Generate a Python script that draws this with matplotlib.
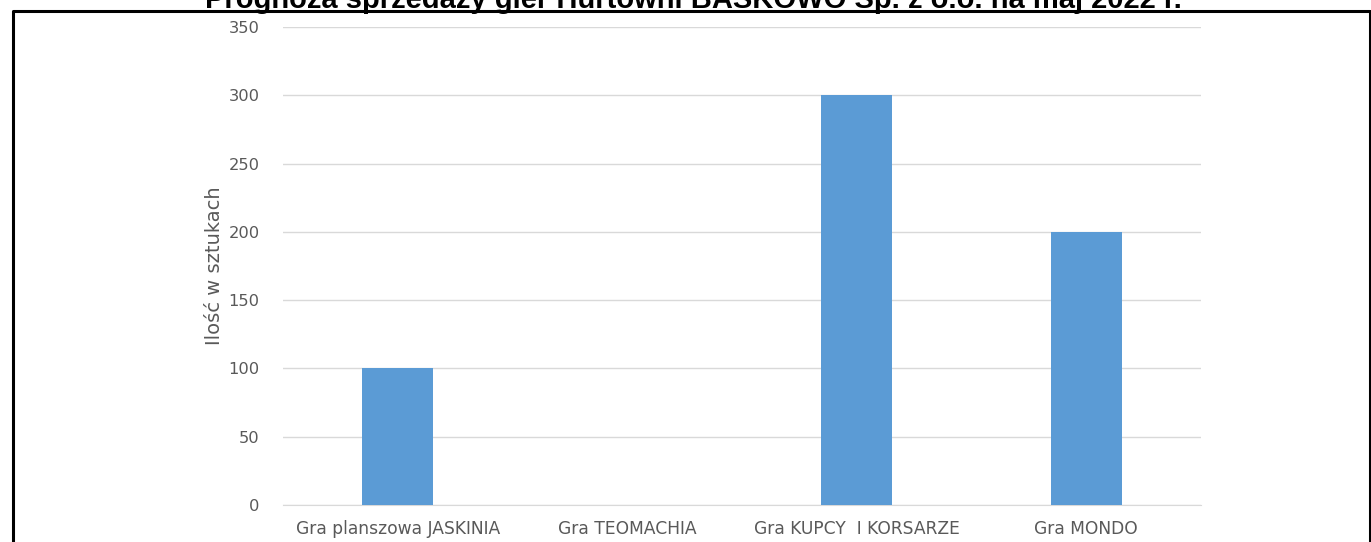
import matplotlib
matplotlib.use("Agg")
import matplotlib.pyplot as plt
from matplotlib.lines import Line2D

# dane z wykresu
kategorie = ["Gra planszowa JASKINIA", "Gra TEOMACHIA", "Gra KUPCY  I KORSARZE", "Gra MONDO"]
ilosc = [100, 0, 300, 200]
yticks = [0, 50, 100, 150, 200, 250, 300, 350]
tytul = "Prognoza sprzedaży gier Hurtowni BASKOWO Sp. z o.o. na maj 2022 r."

W, H = 1371, 542
fig = plt.figure(figsize=(W / 100, H / 100), dpi=100)
ax = fig.add_axes([283 / W, 1 - 505 / H, (1201 - 283) / W, (505 - 27) / H])

x = list(range(len(kategorie)))
ax.bar(x, ilosc, width=0.31, color="#5B9BD5", zorder=3)
ax.set_xlim(-0.5, len(kategorie) - 0.5)
ax.set_ylim(0, 350)
ax.set_yticks(yticks)
ax.set_xticks(x)
ax.set_xticklabels(kategorie)
ax.grid(axis="y", color="#D9D9D9", linewidth=1.0, zorder=0)
for s in ["top", "right", "left"]:
    ax.spines[s].set_visible(False)
ax.spines["bottom"].set_color("#D9D9D9")
ax.tick_params(length=0, colors="#595959")
ax.tick_params(axis="y", pad=17, labelsize=11.7)
ax.tick_params(axis="x", pad=11, labelsize=12.3)
ax.set_ylabel("Ilość w sztukach", color="#595959", fontsize=14, labelpad=3)

# ramka
ramka = Line2D([12.5 / W, 12.5 / W, 1369.5 / W, 1369.5 / W],
               [0, 1 - 11 / H, 1 - 11 / H, 0],
               transform=fig.transFigure, color="black", linewidth=2.2)
fig.add_artist(ramka)

fig.text(693 / W, 1 - 8 / H, tytul, ha="center", va="baseline",
         fontsize=21, fontweight="bold", family=["Liberation Sans", "DejaVu Sans"])

fig.savefig("out.png", dpi=100)
